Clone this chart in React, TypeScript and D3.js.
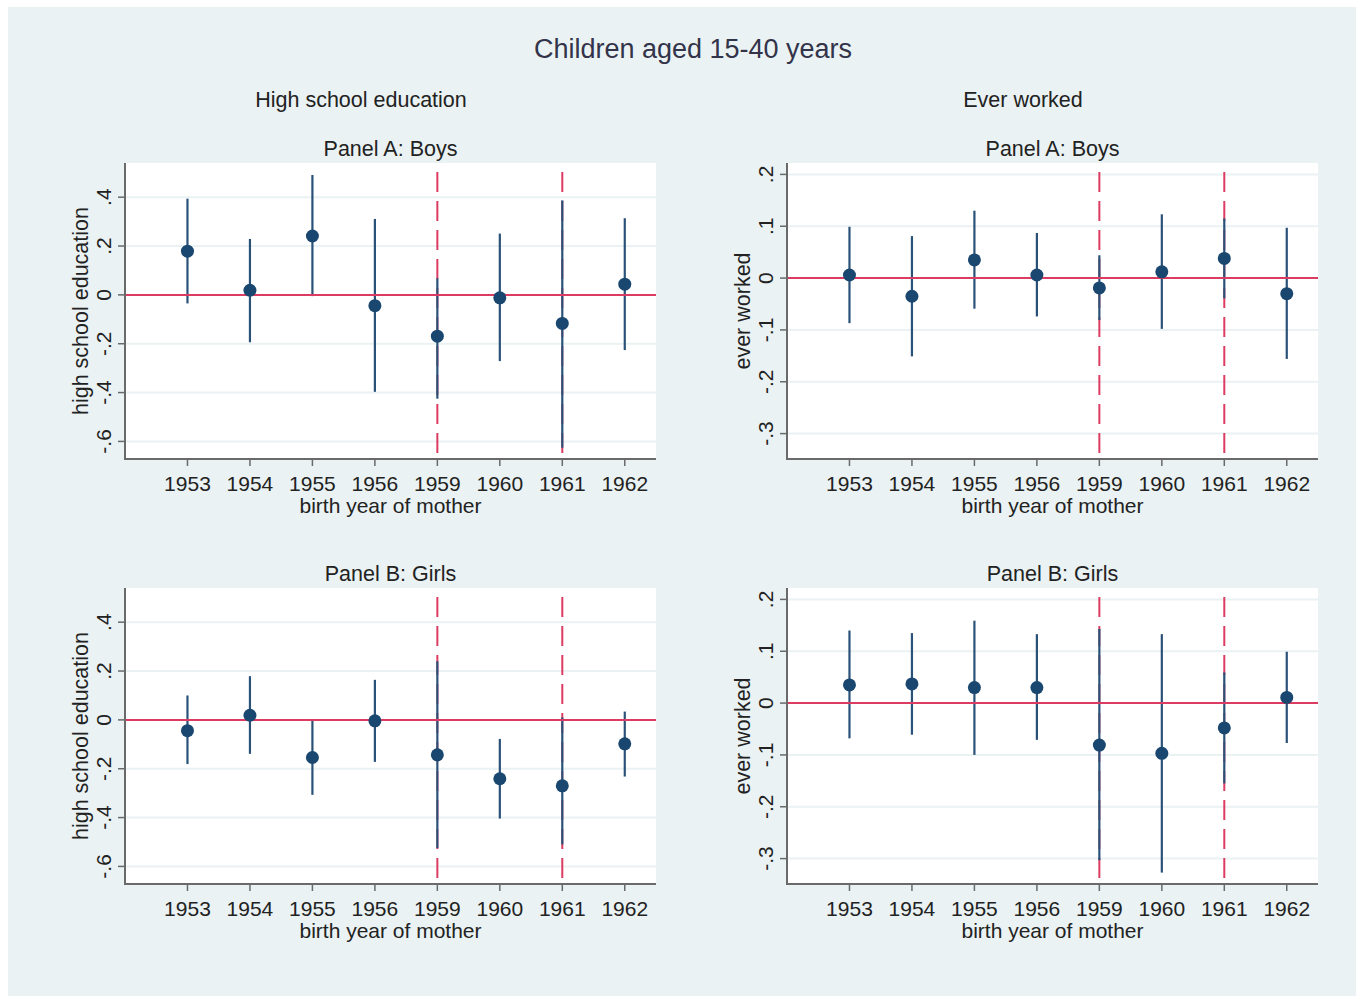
import React from 'react';
import * as d3 from 'd3';

// birth-year categories (not evenly spaced years, so drawn as categories)
const years = ['1953', '1954', '1955', '1956', '1959', '1960', '1961', '1962'];
const markedYears = ['1959', '1961'];

// High school education, boys
const eduBoysEst = [0.179, 0.019, 0.241, -0.044, -0.169, -0.012, -0.117, 0.044];
const eduBoysLo = [-0.035, -0.194, -0.005, -0.397, -0.425, -0.271, -0.626, -0.226];
const eduBoysHi = [0.394, 0.229, 0.491, 0.311, 0.068, 0.251, 0.387, 0.314];

// High school education, girls
const eduGirlsEst = [-0.044, 0.019, -0.154, -0.004, -0.143, -0.241, -0.27, -0.098];
const eduGirlsLo = [-0.181, -0.139, -0.307, -0.172, -0.525, -0.404, -0.51, -0.232];
const eduGirlsHi = [0.1, 0.179, 0.003, 0.164, 0.24, -0.078, 0.01, 0.034];

// Ever worked, boys
const workBoysEst = [0.006, -0.035, 0.035, 0.006, -0.019, 0.012, 0.038, -0.03];
const workBoysLo = [-0.087, -0.151, -0.059, -0.074, -0.081, -0.098, -0.039, -0.156];
const workBoysHi = [0.099, 0.081, 0.13, 0.087, 0.044, 0.123, 0.115, 0.097];

// Ever worked, girls
const workGirlsEst = [0.035, 0.037, 0.03, 0.03, -0.081, -0.097, -0.048, 0.011];
const workGirlsLo = [-0.068, -0.061, -0.1, -0.071, -0.303, -0.327, -0.155, -0.077];
const workGirlsHi = [0.14, 0.135, 0.159, 0.133, 0.143, 0.133, 0.059, 0.099];

const eduTicks = [-0.6, -0.4, -0.2, 0, 0.2, 0.4];
const eduTickLabels = ['-.6', '-.4', '-.2', '0', '.2', '.4'];
const workTicks = [-0.3, -0.2, -0.1, 0, 0.1, 0.2];
const workTickLabels = ['-.3', '-.2', '-.1', '0', '.1', '.2'];

const eduDomain = [-0.672, 0.54];
const workDomain = [-0.349, 0.222];

const BG = '#eaf2f3';
const NAVY = '#1a476f';
const RED = '#dc3c62';
const FONT = '"Liberation Sans", Arial, sans-serif';

const PW = 531;
const PH = 296;

type PanelProps = {
  x0: number;
  y0: number;
  title: string;
  yTitle: string;
  domain: number[];
  ticks: number[];
  tickLabels: string[];
  est: number[];
  lo: number[];
  hi: number[];
};

const Panel = ({ x0, y0, title, yTitle, domain, ticks, tickLabels, est, lo, hi }: PanelProps) => {
  const x = d3.scaleLinear().domain([-1, 7.5]).range([x0, x0 + PW]);
  const y = d3.scaleLinear().domain(domain).range([y0 + PH, y0]);
  const xb = y0 + PH;

  return (
    <g>
      <rect x={x0} y={y0} width={PW} height={PH} fill="#fff" />
      {ticks.map((t) => (
        <line key={'g' + t} x1={x0} x2={x0 + PW} y1={y(t)} y2={y(t)} stroke={BG} strokeWidth={2} />
      ))}
      {markedYears.map((yr) => {
        const xi = x(years.indexOf(yr));
        return (
          <line
            key={'v' + yr}
            x1={xi}
            x2={xi}
            y1={y0}
            y2={xb}
            stroke={RED}
            strokeWidth={2}
            strokeDasharray="20 9"
            strokeDashoffset={20}
          />
        );
      })}
      {years.map((yr, i) => (
        <line key={'ci' + yr} x1={x(i)} x2={x(i)} y1={y(lo[i])} y2={y(hi[i])} stroke="#2a5279" strokeWidth={2.2} />
      ))}
      <line x1={x0} x2={x0 + PW} y1={y(0)} y2={y(0)} stroke={RED} strokeWidth={2} />
      {years.map((yr, i) => (
        <circle key={'p' + yr} cx={x(i)} cy={y(est[i])} r={6.5} fill={NAVY} />
      ))}

      {/* axes */}
      <line x1={x0} x2={x0} y1={y0} y2={xb + 1} stroke="#6a6a6a" strokeWidth={2} />
      <line x1={x0 - 1} x2={x0 + PW} y1={xb} y2={xb} stroke="#6a6a6a" strokeWidth={2} />
      {ticks.map((t, i) => (
        <g key={'yt' + t}>
          <line x1={x0 - 7} x2={x0} y1={y(t)} y2={y(t)} stroke="#6a6a6a" strokeWidth={1.5} />
          <text
            transform={`translate(${x0 - 14},${y(t)}) rotate(-90)`}
            textAnchor="middle"
            fontSize={21}
            fontFamily={FONT}
            fill="#222"
          >
            {tickLabels[i]}
          </text>
        </g>
      ))}
      {years.map((yr, i) => (
        <g key={'xt' + yr}>
          <line x1={x(i)} x2={x(i)} y1={xb} y2={xb + 7} stroke="#6a6a6a" strokeWidth={1.5} />
          <text x={x(i)} y={xb + 32} textAnchor="middle" fontSize={21} fontFamily={FONT} fill="#222">
            {yr}
          </text>
        </g>
      ))}
      <text x={x0 + PW / 2} y={xb + 54} textAnchor="middle" fontSize={21} fontFamily={FONT} fill="#222">
        birth year of mother
      </text>
      <text
        transform={`translate(${x0 - 37},${y0 + PH / 2}) rotate(-90)`}
        textAnchor="middle"
        fontSize={21.5}
        fontFamily={FONT}
        fill="#222"
      >
        {yTitle}
      </text>
      <text x={x0 + PW / 2} y={y0 - 7} textAnchor="middle" fontSize={21.5} fontFamily={FONT} fill="#222">
        {title}
      </text>
    </g>
  );
};

const App = () => {
  return (
    <div style={{ position: 'absolute', left: 0, top: 0 }}>
      <style>{'body{margin:0;overflow:hidden}'}</style>
      <svg width={1356} height={996} style={{ display: 'block' }}>
        <rect x={0} y={0} width={1356} height={996} fill="#fff" />
        <rect x={8} y={7} width={1348} height={989} fill={BG} />
        <text x={693} y={58} textAnchor="middle" fontSize={27} fontFamily={FONT} fill="#33334a">
          Children aged 15-40 years
        </text>
        <text x={361} y={107} textAnchor="middle" fontSize={21.5} fontFamily={FONT} fill="#222">
          High school education
        </text>
        <text x={1023} y={107} textAnchor="middle" fontSize={21.5} fontFamily={FONT} fill="#222">
          Ever worked
        </text>
        <Panel
          x0={125}
          y0={163}
          title="Panel A: Boys"
          yTitle="high school education"
          domain={eduDomain}
          ticks={eduTicks}
          tickLabels={eduTickLabels}
          est={eduBoysEst}
          lo={eduBoysLo}
          hi={eduBoysHi}
        />
        <Panel
          x0={787}
          y0={163}
          title="Panel A: Boys"
          yTitle="ever worked"
          domain={workDomain}
          ticks={workTicks}
          tickLabels={workTickLabels}
          est={workBoysEst}
          lo={workBoysLo}
          hi={workBoysHi}
        />
        <Panel
          x0={125}
          y0={588}
          title="Panel B: Girls"
          yTitle="high school education"
          domain={eduDomain}
          ticks={eduTicks}
          tickLabels={eduTickLabels}
          est={eduGirlsEst}
          lo={eduGirlsLo}
          hi={eduGirlsHi}
        />
        <Panel
          x0={787}
          y0={588}
          title="Panel B: Girls"
          yTitle="ever worked"
          domain={workDomain}
          ticks={workTicks}
          tickLabels={workTickLabels}
          est={workGirlsEst}
          lo={workGirlsLo}
          hi={workGirlsHi}
        />
      </svg>
    </div>
  );
};

export default App;
